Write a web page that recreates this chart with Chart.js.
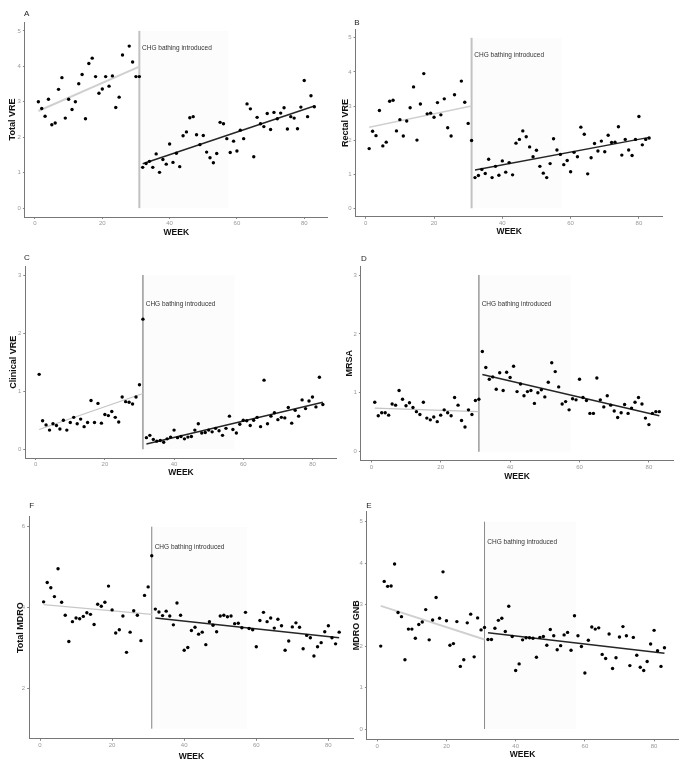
<!DOCTYPE html>
<html>
<head>
<meta charset="utf-8">
<script src="https://cdn.jsdelivr.net/npm/chart.js@4/dist/chart.umd.min.js"></script>
<style>
  body { margin: 0; background: #fff; }
  #wrap { position: relative; width: 688px; height: 773px; overflow: hidden; }
  #wrap canvas { position: absolute; }
</style>
</head>
<body>
<div id="wrap"></div>
<script>
// weeks
const weeksPre = [1,2,3,4,5,6,7,8,9,10,11,12,13,14,15,16,17,18,19,20,21,22,23,24,25,26,27,28,29,30,31]
const weeksPreNo27 = [1,2,3,4,5,6,7,8,9,10,11,12,13,14,15,16,17,18,19,20,21,22,23,24,25,26,28,29,30,31]
const weeksPost = [32,33,34,35,36,37,38,39,40,41,42,43,44,45,46,47,48,49,50,51,52,53,54,55,56,57,58,59,60,61,
  62,63,64,65,66,67,68,69,70,71,72,73,74,75,76,77,78,79,80,81,82,83]

const interventionWeek = 31
const bandEndWeek = 57.5
const noteWeek = 31.8
const noteText = 'CHG bathing introduced'
const xTicks = [0, 20, 40, 60, 80]

// A - total VRE
const totalVrePre = [3.00,2.81,2.59,3.07,2.35,2.40,3.35,3.68,2.54,3.07,2.78,3.00,3.51,3.77,2.52,4.08,4.23,3.71,3.24,3.36,
  3.71,3.44,3.73,2.84,3.13,4.32,4.57,4.12,3.71,3.71]
const totalVrePost = [1.15,1.26,1.32,1.15,1.53,1.01,1.37,1.24,1.81,1.29,1.55,1.17,2.04,2.15,2.55,2.58,2.07,1.79,2.05,1.58,
  1.42,1.28,1.54,2.42,2.38,1.96,1.57,1.89,1.61,2.20,1.96,2.94,2.80,1.45,2.56,2.38,2.30,2.67,2.22,2.70,
  2.52,2.68,2.83,2.23,2.58,2.54,2.24,2.85,3.60,2.58,3.17,2.86]
const totalVreFitPre = [[1, 2.74], [31, 3.99]]
const totalVreFitPost = [[32, 1.25], [83, 2.88]]

// B - rectal VRE
const rectalVrePre = [1.75,2.26,2.13,2.87,1.83,1.94,3.14,3.17,2.27,2.60,2.12,2.56,2.95,3.56,2.00,3.06,3.95,2.77,2.79,2.67,
  3.10,2.74,3.21,2.36,2.12,3.33,3.73,3.11,2.49,1.99]
const rectalVrePost = [0.90,0.96,1.14,1.02,1.44,0.90,1.23,0.97,1.39,1.06,1.34,0.98,1.91,2.02,2.27,2.10,1.80,1.51,1.70,1.23,
  1.03,0.90,1.31,2.04,1.71,1.58,1.28,1.40,1.07,1.64,1.51,2.38,2.17,1.01,1.48,1.90,1.68,1.97,1.66,2.14,
  1.93,1.94,2.39,1.56,2.02,1.71,1.55,2.02,2.69,1.86,2.02,2.06]
const rectalVreFitPre = [[1, 2.38], [31, 3.00]]
const rectalVreFitPost = [[32, 1.12], [83, 2.08]]

// C - clinical VRE
const clinicalVrePre = [1.29,0.49,0.42,0.33,0.44,0.41,0.35,0.50,0.33,0.46,0.55,0.44,0.52,0.39,0.46,0.84,0.46,0.79,0.45,0.60,
  0.58,0.65,0.55,0.47,0.90,0.82,0.81,0.78,0.90,1.11,2.24]
const clinicalVrePost = [0.20,0.24,0.17,0.14,0.15,0.12,0.18,0.21,0.33,0.20,0.22,0.18,0.21,0.22,0.33,0.44,0.28,0.29,0.33,0.30,
  0.36,0.32,0.24,0.36,0.57,0.34,0.28,0.43,0.50,0.49,0.41,0.50,0.55,0.39,1.19,0.44,0.57,0.63,0.51,0.55,
  0.54,0.72,0.45,0.67,0.57,0.85,0.70,0.83,0.90,0.73,1.24,0.77]
const clinicalVreFitPre = [[1, 0.34], [31, 0.96]]
const clinicalVreFitPost = [[32, 0.09], [83, 0.81]]

// D - MRSA
const mrsaPre = [0.84,0.61,0.66,0.66,0.62,0.81,0.79,1.04,0.89,0.78,0.83,0.75,0.68,0.63,0.84,0.57,0.54,0.59,0.51,0.62,
  0.71,0.66,0.61,0.92,0.79,0.53,0.42,0.71,0.63,0.87,0.89]
const mrsaPost = [1.70,1.43,1.23,1.27,1.06,1.34,1.04,1.35,1.26,1.45,1.02,1.15,0.95,1.02,1.04,0.82,1.00,1.05,0.93,1.18,
  1.51,1.36,1.10,0.81,0.85,0.71,0.90,0.88,1.23,0.92,0.87,0.65,0.65,1.25,0.88,0.76,0.95,0.79,0.69,0.58,
  0.66,0.80,0.65,0.74,0.84,0.92,0.81,0.57,0.46,0.65,0.68,0.68]
const mrsaFitPre = [[1, 0.74], [31, 0.68]]
const mrsaFitPost = [[32, 1.31], [83, 0.61]]

// F - total MDRO
const totalMdroPre = [4.14,4.62,4.49,4.27,4.96,4.13,3.81,3.16,3.65,3.74,3.72,3.78,3.87,3.83,3.58,4.08,4.03,4.13,4.53,3.94,
  3.37,3.45,3.79,2.89,3.39,3.92,3.81,3.18,4.30,4.51,5.28]
const totalMdroPost = [3.96,3.89,3.80,3.91,3.79,3.57,4.11,3.81,2.94,3.01,3.43,3.51,3.34,3.39,3.08,3.65,3.56,3.40,3.79,3.81,
  3.77,3.79,3.60,3.61,3.50,3.88,3.48,3.45,3.03,3.68,3.88,3.65,3.74,3.49,3.71,3.55,2.94,3.17,3.52,3.62,
  3.51,2.98,3.31,3.25,2.80,3.03,3.13,3.40,3.55,3.25,3.10,3.39]
const totalMdroFitPre = [[1, 4.07], [31, 3.83]]
const totalMdroFitPost = [[32, 3.74], [83, 3.25]]

// E - MDRO GNB
const mdroGnbPre = [2.00,3.56,3.44,3.45,3.98,2.81,2.71,1.67,2.41,2.41,2.19,2.52,2.58,2.88,2.15,2.63,3.17,2.67,3.79,2.61,
  2.02,2.06,2.59,1.51,1.67,2.56,2.77,1.74,2.68,2.39,2.45]
const mdroGnbPost = [2.16,2.16,2.43,2.62,2.67,2.35,2.96,2.23,1.41,1.57,2.15,2.20,2.20,2.19,1.73,2.21,2.23,2.02,2.40,2.25,
  1.91,2.01,2.27,2.33,1.90,2.73,2.25,1.99,1.35,2.14,2.46,2.41,2.44,1.80,1.70,2.29,1.46,1.72,2.22,2.47,
  2.25,1.53,2.21,1.78,1.49,1.41,1.63,2.05,2.38,1.89,1.51,1.96]
const mdroGnbFitPre = [[1, 2.97], [31, 2.16]]
const mdroGnbFitPost = [[32, 2.32], [83, 1.83]]

const FONT = '"Liberation Sans", Arial, sans-serif'

// panel layout (page pixels)
const panels = [
  { letter: 'A', yTitle: 'Total VRE', preWeeks: weeksPreNo27, pre: totalVrePre, post: totalVrePost,
    fitPre: totalVreFitPre, fitPost: totalVreFitPost, yTicks: [0,1,2,3,4,5], yMin: -0.25, yMax: 5.25,
    band: [0, 5], noteY: 4.5,
    box: { l: 0, t: 0, w: 340, h: 245 }, area: { l: 24.9, r: 327.8, t: 22, b: 217 },
    yTitleX: 13, xTitleY: 233, letterPos: [26.7, 13.3],
    vColor: '#c2c2c2', vWidth: 2, preColor: '#d0d0d0', preWidth: 2 },
  { letter: 'B', yTitle: 'Rectal VRE', preWeeks: weeksPreNo27, pre: rectalVrePre, post: rectalVrePost,
    fitPre: rectalVreFitPre, fitPost: rectalVreFitPost, yTicks: [0,1,2,3,4,5], yMin: -0.25, yMax: 5.25,
    band: [0, 5], noteY: 4.5,
    box: { l: 340, t: 0, w: 348, h: 245 }, area: { l: 355.5, r: 662.8, t: 29.3, b: 216.8 },
    yTitleX: 346, xTitleY: 232, letterPos: [357, 22.7],
    vColor: '#c2c2c2', vWidth: 2, preColor: '#d0d0d0', preWidth: 1.5 },
  { letter: 'C', yTitle: 'Clinical VRE', preWeeks: weeksPre, pre: clinicalVrePre, post: clinicalVrePost,
    fitPre: clinicalVreFitPre, fitPost: clinicalVreFitPost, yTicks: [0,1,2,3], yMin: -0.15, yMax: 3.15,
    band: [0, 3], noteY: 2.5,
    box: { l: 0, t: 245, w: 340, h: 250 }, area: { l: 25.3, r: 336.7, t: 266.3, b: 458 },
    yTitleX: 14, xTitleY: 472.5, letterPos: [27, 257.3],
    vColor: '#666', vWidth: 1, preColor: '#c4c4c4', preWidth: 1.2 },
  { letter: 'D', yTitle: 'MRSA', preWeeks: weeksPre, pre: mrsaPre, post: mrsaPost,
    fitPre: mrsaFitPre, fitPost: mrsaFitPost, yTicks: [0,1,2,3], yMin: -0.15, yMax: 3.15,
    band: [0, 3], noteY: 2.5,
    box: { l: 340, t: 245, w: 348, h: 250 }, area: { l: 360.9, r: 673.2, t: 266.2, b: 460.5 },
    yTitleX: 350, xTitleY: 476.5, letterPos: [364, 258.3],
    vColor: '#9a9a9a', vWidth: 1.5, preColor: '#c4c4c4', preWidth: 1.2 },
  { letter: 'F', yTitle: 'Total MDRO', preWeeks: weeksPre, pre: totalMdroPre, post: totalMdroPost,
    fitPre: totalMdroFitPre, fitPost: totalMdroFitPost, yTicks: [2,4,6], yMin: 0.75, yMax: 6.25,
    band: [1, 6], noteY: 5.5,
    box: { l: 0, t: 495, w: 358, h: 278 }, area: { l: 29.2, r: 353.6, t: 516.6, b: 738.8 },
    yTitleX: 20.7, xTitleY: 756.5, letterPos: [31.7, 506],
    vColor: '#808080', vWidth: 1, preColor: '#c8c8c8', preWidth: 1.2 },
  { letter: 'E', yTitle: 'MDRO GNB', preWeeks: weeksPre, pre: mdroGnbPre, post: mdroGnbPost,
    fitPre: mdroGnbFitPre, fitPost: mdroGnbFitPost, yTicks: [0,1,2,3,4,5], yMin: -0.25, yMax: 5.25,
    band: [0, 5], noteY: 4.5,
    box: { l: 344, t: 495, w: 344, h: 278 }, area: { l: 366.9, r: 678.3, t: 511.3, b: 739.4 },
    yTitleX: 356.7, xTitleY: 755, letterPos: [369, 506],
    vColor: '#8a8a8a', vWidth: 1, preColor: '#d0d0d0', preWidth: 2 }
]

// shaded period, vertical line, note and panel letter
const annot = {
  id: 'annot',
  beforeDatasetsDraw(chart, args, o) {
    const { ctx, scales: { x, y } } = chart
    const x0 = x.getPixelForValue(interventionWeek)
    const x1 = x.getPixelForValue(bandEndWeek)
    const yLo = y.getPixelForValue(o.band[0])
    const yHi = y.getPixelForValue(o.band[1])
    ctx.save()
    ctx.fillStyle = 'rgba(0,0,0,0.012)'
    ctx.fillRect(x0, yHi, x1 - x0, yLo - yHi)
    ctx.strokeStyle = o.vColor
    ctx.lineWidth = o.vWidth
    ctx.beginPath()
    ctx.moveTo(x0, yLo)
    ctx.lineTo(x0, yHi)
    ctx.stroke()
    ctx.fillStyle = '#333'
    ctx.font = '6.5px ' + FONT
    ctx.textBaseline = 'middle'
    ctx.textAlign = 'left'
    ctx.fillText(noteText, x.getPixelForValue(noteWeek), y.getPixelForValue(o.noteY))
    ctx.restore()
  },
  afterDraw(chart, args, o) {
    const ctx = chart.ctx
    ctx.save()
    ctx.fillStyle = '#222'
    ctx.font = '8px ' + FONT
    ctx.textAlign = 'center'
    ctx.textBaseline = 'middle'
    ctx.fillText(o.letter, o.letterX, o.letterY)
    ctx.restore()
  }
}

const toPoints = (xs, ys) => xs.map((w, i) => ({ x: w, y: ys[i] }))
const fitPoints = f => f.map(p => ({ x: p[0], y: p[1] }))

const wrap = document.getElementById('wrap')

const makePanel = (p) => {
  const c = document.createElement('canvas')
  c.width = p.box.w
  c.height = p.box.h
  c.style.left = p.box.l + 'px'
  c.style.top = p.box.t + 'px'
  wrap.appendChild(c)

  const yAxisW = p.area.l - p.box.l
  const xAxisH = p.box.t + p.box.h - p.area.b
  const yTitleSize = 9, xTitleSize = 8.5

  const dots = { pointRadius: 1.7, pointHoverRadius: 1.7, backgroundColor: '#000', borderWidth: 0, showLine: false }

  new Chart(c, {
    type: 'scatter',
    data: {
      datasets: [
        { data: fitPoints(p.fitPre), showLine: true, pointRadius: 0, borderColor: p.preColor, borderWidth: p.preWidth, order: 3 },
        { data: fitPoints(p.fitPost), showLine: true, pointRadius: 0, borderColor: '#262626', borderWidth: 1.5, order: 2 },
        { data: toPoints(p.preWeeks, p.pre), ...dots, order: 1 },
        { data: toPoints(weeksPost, p.post), ...dots, order: 0 }
      ]
    },
    options: {
      responsive: false,
      animation: false,
      events: [],
      layout: { padding: { left: 0, top: p.area.t - p.box.t, right: p.box.l + p.box.w - p.area.r, bottom: 0 } },
      plugins: {
        legend: { display: false },
        tooltip: { enabled: false },
        annot: { band: p.band, noteY: p.noteY, vColor: p.vColor, vWidth: p.vWidth,
          letter: p.letter, letterX: p.letterPos[0] - p.box.l, letterY: p.letterPos[1] - p.box.t }
      },
      scales: {
        x: {
          type: 'linear', min: -3, max: 87,
          afterFit: s => { s.height = xAxisH },
          afterBuildTicks: s => { s.ticks = xTicks.map(v => ({ value: v })) },
          grid: { drawOnChartArea: false, tickLength: 2, color: '#888' },
          border: { color: '#777', width: 1 },
          ticks: { padding: 1, color: '#999', font: { size: 6, family: FONT }, maxRotation: 0, autoSkip: false },
          title: { display: true, text: 'WEEK', color: '#111',
            font: { size: xTitleSize, weight: 'bold', family: FONT },
            padding: { top: 0, bottom: p.box.t + p.box.h - p.xTitleY - xTitleSize * 0.6 } }
        },
        y: {
          type: 'linear', min: p.yMin, max: p.yMax,
          afterFit: s => { s.width = yAxisW },
          afterBuildTicks: s => { s.ticks = p.yTicks.map(v => ({ value: v })) },
          grid: { drawOnChartArea: false, tickLength: 2, color: '#888' },
          border: { color: '#777', width: 1 },
          ticks: { padding: 2, color: '#999', font: { size: 6, family: FONT } },
          title: { display: true, text: p.yTitle, color: '#111',
            font: { size: yTitleSize, weight: 'bold', family: FONT },
            padding: { top: p.yTitleX - p.box.l - yTitleSize * 0.6, bottom: 0 } }
        }
      }
    },
    plugins: [annot]
  })
}

panels.forEach(makePanel)
</script>
</body>
</html>
